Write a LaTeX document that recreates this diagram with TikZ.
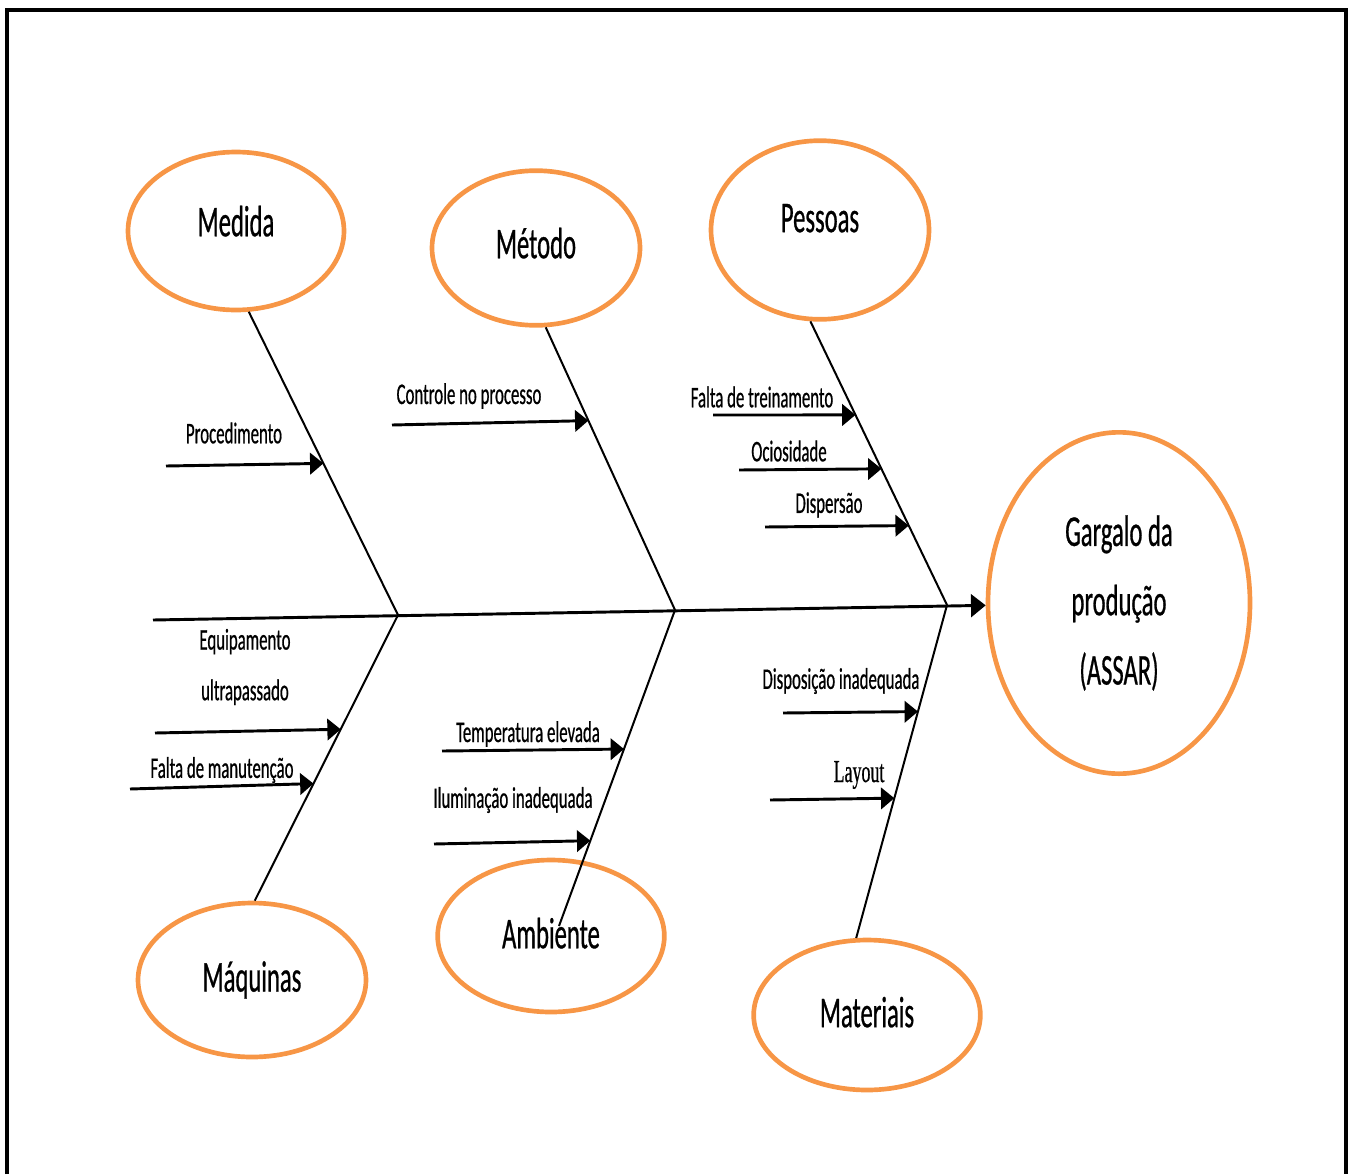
\documentclass[tikz,border=0pt]{standalone}
\usepackage{fontspec}
\setmainfont{Carlito}
\newfontfamily\rotfont[FakeStretch=0.56,FakeBold=0.6]{Carlito}
\newfontfamily\serifrot[FakeStretch=0.56,FakeBold=0.6]{Liberation Serif}
\usetikzlibrary{shapes.geometric,arrows.meta,calc}
\definecolor{laranja}{HTML}{F79646}

\begin{document}
\begin{tikzpicture}[x=0.75pt,y=-0.75pt,
  categoria/.style={draw=laranja, ellipse, line width=3.5pt, inner sep=0pt, font=\rotfont\fontsize{33}{40}\selectfont},
  espinha/.style={line width=1.5pt},
  causa/.style={line width=2.2pt, -{Triangle[length=10pt,width=16pt]}},
  rotulo/.style={inner sep=0pt, font=\rotfont\fontsize{22.5}{38}\selectfont}]

\useasboundingbox (0,0) rectangle (1352,1174);
\draw[line width=2.4pt] (7,1174)--(7,10)--(1346,10)--(1346,1174);

\node[categoria, minimum width=162pt, minimum height=118.5pt] (medida) at (236,231) {\raisebox{15pt}{Medida}};
\node[categoria, minimum width=156pt, minimum height=116pt] (metodo) at (536,248) {\raisebox{7.5pt}{Método}};
\node[categoria, minimum width=163.5pt, minimum height=134pt] (pessoas) at (820,230) {\raisebox{18pt}{Pessoas}};
\node[categoria, minimum width=171pt, minimum height=115.5pt] (maquinas) at (252,980) {\raisebox{3pt}{Máquinas}};
\node[categoria, minimum width=170pt, minimum height=114pt] (ambiente) at (551,936) {\raisebox{4.5pt}{Ambiente}};
\node[categoria, minimum width=170pt, minimum height=112.5pt] (materiais) at (867,1015) {\raisebox{4.5pt}{Materiais}};
\node[categoria, align=center, minimum width=196.5pt, minimum height=256pt, font=\rotfont\fontsize{33}{52}\selectfont] (gargalo) at (1119,603) {Gargalo da\\produção\\(ASSAR)};

\coordinate (cauda) at (153,620);
\coordinate (j1) at (398,615);
\coordinate (j2) at (675,610);
\coordinate (j3) at (947,605);
\coordinate (fimamb) at (559,926);

\draw[line width=2.2pt, -{Triangle[length=11pt,width=17pt]}] (cauda) -- (gargalo);

\draw[espinha] (medida.-81) -- (j1);
\draw[espinha] (metodo.-83) -- (j2);
\draw[espinha] (pessoas.-96) -- (j3);
\draw[espinha] (j1) -- (maquinas.88);
\draw[espinha] (j2) -- (fimamb);
\draw[espinha] (j3) -- (materiais.98);

\node[rotulo] (proc) at (234,433) {Procedimento};
\node[rotulo] (ctrl) at (469,396) {Controle no processo};
\node[rotulo] (trein) at (762,397) {Falta de treinamento};
\node[rotulo] (ocio) at (789,451) {Ociosidade};
\node[rotulo] (disp) at (829,505) {Dispersão};
\node[rotulo, align=center] (equip) at (245,667) {Equipamento\\ultrapassado};
\node[rotulo] (manut) at (222,770) {Falta de manutenção};
\node[rotulo] (temp) at (528,734) {Temperatura elevada};
\node[rotulo] (ilum) at (513,800) {Iluminação inadequada};
\node[rotulo] (dispo) at (841,681) {Disposição inadequada};
\node[rotulo, font=\serifrot\fontsize{24}{28}\selectfont] (layout) at (859,775) {Layout};

\coordinate (c1) at (166,466);
\coordinate (c2) at (392,425);
\coordinate (c3) at (713,415);
\coordinate (c4) at (739,470);
\coordinate (c5) at (765,527);
\coordinate (c6) at (155,733);
\coordinate (c7) at (130,789);
\coordinate (c8) at (442,751);
\coordinate (c9) at (434,844);
\coordinate (c10) at (783,713);
\coordinate (c11) at (770,800);

\draw[causa] (c1) -- ($(medida.-81)!0.5!(j1)$);
\draw[causa] (c2) -- ($(metodo.-83)!0.33!(j2)$);
\draw[causa] (c3) -- ($(pessoas.-96)!0.33!(j3)$);
\draw[causa] (c4) -- ($(pessoas.-96)!0.52!(j3)$);
\draw[causa] (c5) -- ($(pessoas.-96)!0.72!(j3)$);
\draw[causa] (c6) -- ($(j1)!0.4!(maquinas.88)$);
\draw[causa] (c7) -- ($(j1)!0.59!(maquinas.88)$);
\draw[causa] (c8) -- ($(j2)!0.44!(fimamb)$);
\draw[causa] (c9) -- ($(j2)!0.73!(fimamb)$);
\draw[causa] (c10) -- ($(j3)!0.32!(materiais.98)$);
\draw[causa] (c11) -- ($(j3)!0.58!(materiais.98)$);
\end{tikzpicture}
\end{document}
